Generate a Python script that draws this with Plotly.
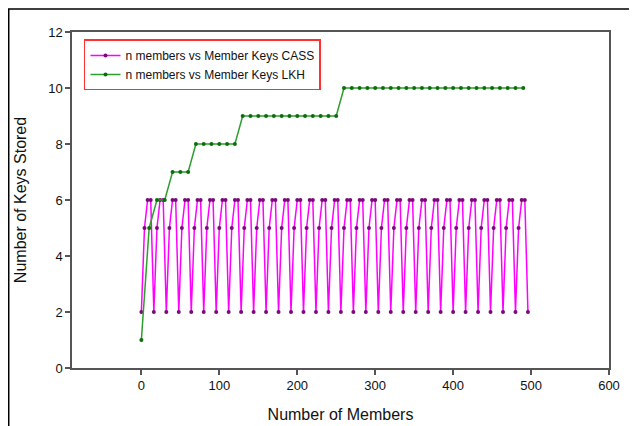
import plotly.graph_objects as go

# ---- data ----
cass_members = list(range(0, 500, 4))  # 0, 4, 8, ..., 496
cass_keys = [
    2, 5, 6, 6, 2, 5, 6, 6, 2, 5, 6, 6, 2, 5, 6, 6,
    2, 5, 6, 6, 2, 5, 6, 6, 2, 5, 6, 6, 2, 5, 6, 6,
    2, 5, 6, 6, 2, 5, 6, 6, 2, 5, 6, 6, 2, 5, 6, 6,
    2, 5, 6, 6, 2, 5, 6, 6, 2, 5, 6, 6, 2, 5, 6, 6,
    2, 5, 6, 6, 2, 5, 6, 6, 2, 5, 6, 6, 2, 5, 6, 6,
    2, 5, 6, 6, 2, 5, 6, 6, 2, 5, 6, 6, 2, 5, 6, 6,
    2, 5, 6, 6, 2, 5, 6, 6, 2, 5, 6, 6, 2, 5, 6, 6,
    2, 5, 6, 6, 2, 5, 6, 6, 2, 5, 6, 6, 2,
]

lkh_members = list(range(0, 500, 10))  # 0, 10, ..., 490
lkh_keys = [
    1, 5, 6, 6, 7, 7, 7, 8, 8, 8,
    8, 8, 8, 9, 9, 9, 9, 9, 9, 9,
    9, 9, 9, 9, 9, 9, 10, 10, 10, 10,
    10, 10, 10, 10, 10, 10, 10, 10, 10, 10,
    10, 10, 10, 10, 10, 10, 10, 10, 10, 10,
]

x_ticks = [0, 100, 200, 300, 400, 500, 600]
y_ticks = [0, 2, 4, 6, 8, 10, 12]

FONT = "Liberation Sans, Arial, sans-serif"

fig = go.Figure()
fig.add_trace(go.Scatter(
    x=cass_members, y=cass_keys, mode="lines+markers",
    name="n members vs Member Keys CASS",
    line=dict(color="#ff00ff", width=1.5),
    marker=dict(color="#7a0a7a", size=4),
))
fig.add_trace(go.Scatter(
    x=lkh_members, y=lkh_keys, mode="lines+markers",
    name="n members vs Member Keys LKH",
    line=dict(color="#2e9e2e", width=1.5),
    marker=dict(color="#0b6e0b", size=4),
))

# page has an 8px body margin, so the figure is 8px smaller than the window
fig.update_layout(
    width=629, height=418,
    margin=dict(l=64, r=28, t=24, b=58, autoexpand=False),
    paper_bgcolor="white", plot_bgcolor="white",
    font=dict(family=FONT, color="#111"),
    showlegend=True,
    legend=dict(
        x=0.0223, y=0.978, xanchor="left", yanchor="top",
        bordercolor="#ff3030", borderwidth=1.5,
        bgcolor="white",
        font=dict(size=12, family=FONT, color="#111"),
        tracegroupgap=0, itemwidth=30,
    ),
    shapes=[dict(
        type="rect", xref="paper", yref="paper",
        x0=-0.1178, x1=1.2, y0=-0.4, y1=1.0685,
        line=dict(color="black", width=1.5), layer="above",
    )],
)
fig.update_xaxes(
    range=[-89, 600], tickvals=x_ticks, automargin=False,
    showgrid=False, zeroline=False,
    showline=True, linecolor="#555", linewidth=1.5, mirror=True,
    ticks="outside", ticklen=5, tickcolor="#555", tickwidth=1.5,
    tickfont=dict(size=13, family=FONT, color="#111"),
    title=dict(text="Number of Members", font=dict(size=16, family=FONT, color="#111"), standoff=16),
)
fig.update_yaxes(
    range=[0, 12], tickvals=y_ticks, automargin=False,
    showgrid=False, zeroline=False,
    showline=True, linecolor="#555", linewidth=1.5, mirror=True,
    ticks="outside", ticklen=5, tickcolor="#555", tickwidth=1.5,
    tickfont=dict(size=13, family=FONT, color="#111"),
    title=dict(text="Number of Keys Stored", font=dict(size=16, family=FONT, color="#111"), standoff=18),
)

fig.write_html("out.html")
